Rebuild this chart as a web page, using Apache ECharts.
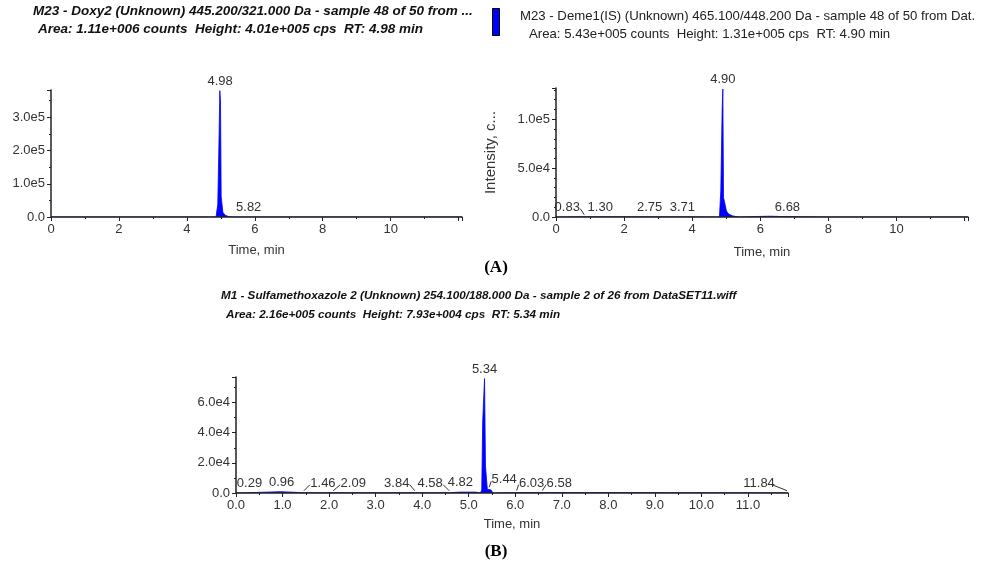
<!DOCTYPE html>
<html>
<head>
<meta charset="utf-8">
<script src="https://cdn.jsdelivr.net/npm/echarts@6/dist/echarts.min.js"></script>
<style>
  html, body { margin: 0; padding: 0; background: #fff; }
  #main { width: 981px; height: 570px; }
</style>
</head>
<body>
<div id="main"></div>
<script>
// trace A: Doxy2 445.2/321.0
const timeA = [0.0, 1.0, 2.0, 3.0, 4.0, 4.80, 4.86, 4.89, 4.91, 4.93, 4.95, 4.97, 4.99, 5.01, 5.03, 5.06, 5.09, 5.13, 5.18, 5.24, 5.35, 5.80, 5.82, 5.85, 6.5, 8.0, 10.0, 12.1]
const intA = [0, 0, 0, 0, 0, 0, 800, 6000, 38000, 41000, 250000, 380000, 350000, 62000, 58000, 14000, 9000, 5000, 2500, 1000, 0, 0, 1500, 0, 0, 0, 0, 0]
const peaksA = [4.98, 5.82]

// trace B: Deme1(IS) 465.1/448.2
const timeB = [0.0, 0.83, 1.30, 2.75, 3.71, 4.80, 4.84, 4.86, 4.88, 4.90, 4.92, 4.94, 4.97, 5.00, 5.04, 5.10, 5.18, 5.28, 5.40, 6.00, 6.30, 6.68, 8.0, 10.0, 12.1]
const intB = [0, 300, 300, 200, 200, 0, 27000, 27000, 110000, 131000, 20000, 18000, 12000, 7000, 4000, 2500, 1200, 500, 0, 600, 800, 400, 0, 0, 0]
const peaksB = [0.83, 1.30, 2.75, 3.71, 4.90, 6.68]

// trace C: Sulfamethoxazole 2 254.1/188.0
const timeC = [0.0, 0.29, 0.96, 1.46, 2.09, 3.84, 4.58, 4.82, 5.15, 5.25, 5.28, 5.30, 5.32, 5.34, 5.36, 5.38, 5.40, 5.44, 5.48, 5.52, 6.03, 6.58, 11.84, 11.86]
const intC = [0, 200, 900, 200, 200, 200, 200, 600, 600, 0, 2000, 47000, 47000, 76000, 18000, 18000, 2500, 2500, 2000, 0, 300, 300, 200, 0]
const peaksC = [0.29, 0.96, 1.46, 2.09, 3.84, 4.58, 4.82, 5.34, 5.44, 6.03, 6.58, 11.84]

// label shifts in px (leader line drawn when shifted)
const shiftA = [0, 0]
const shiftB = [-17, 0, 0, 0, 0, 4]
const shiftC = [0, 1, 19, 20, -18, -19, 0, 0, 15, 15, 17, -28]

const FONT = '"Liberation Sans", Arial, sans-serif'
const BLUE = '#0000ff'
const INK = '#333'

function pairs(t, v) {
  return t.map((x, i) => [x, v[i]])
}

// tallest point of the trace close to a retention time
function heightAt(t, v, rt) {
  let h = 0
  for (let i = 0; i < t.length; i++) {
    if (Math.abs(t[i] - rt) <= 0.03) h = Math.max(h, v[i])
  }
  return h
}

function sci(v) {
  if (v === 0) return '0.0'
  const e = Math.floor(Math.log10(v) + 1e-9)
  return (v / Math.pow(10, e)).toFixed(1) + 'e' + e
}

function labelSeries(idx, peaks, t, v, shift) {
  return {
    type: 'custom',
    xAxisIndex: idx,
    yAxisIndex: idx,
    z: 10,
    clip: false,
    silent: true,
    data: peaks.map(rt => [rt, heightAt(t, v, rt)]),
    renderItem(params, api) {
      const p = api.coord([api.value(0), api.value(1)])
      const dx = shift[params.dataIndex]
      const txt = api.value(0).toFixed(2)
      const lx = p[0] + dx
      const children = [{
        type: 'text',
        style: {
          text: txt, x: lx, y: p[1] - 3,
          align: 'center', verticalAlign: 'bottom',
          font: '13px ' + FONT, fill: INK
        }
      }]
      if (Math.abs(dx) > 5) {
        const edge = dx < 0 ? lx + 13 : lx - 13
        children.push({
          type: 'line',
          shape: { x1: edge, y1: p[1] - 8, x2: p[0], y2: p[1] - 2 },
          style: { stroke: INK, lineWidth: 1 }
        })
      }
      return { type: 'group', children }
    }
  }
}

function traceSeries(idx, t, v) {
  return {
    type: 'line',
    xAxisIndex: idx,
    yAxisIndex: idx,
    data: pairs(t, v),
    showSymbol: false,
    symbol: 'none',
    lineStyle: { color: BLUE, width: 0.8 },
    areaStyle: { color: BLUE, opacity: 1 },
    animation: false
  }
}

const axisCommon = {
  z: 5,
  axisLine: { show: true, lineStyle: { color: '#222', width: 1.5 } },
  axisTick: { show: true, length: 4, lineStyle: { color: '#222' } },
  minorTick: { show: true, length: 2, lineStyle: { color: '#222' } },
  splitLine: { show: false },
  axisLabel: { color: INK, fontFamily: FONT, fontSize: 13, margin: 6 }
}

function xAxis(idx, max, interval, fmt, gap) {
  return Object.assign({}, axisCommon, {
    gridIndex: idx, type: 'value', min: 0, max, interval,
    minorTick: Object.assign({}, axisCommon.minorTick, { splitNumber: 2 }),
    axisLabel: Object.assign({}, axisCommon.axisLabel, { formatter: fmt, showMaxLabel: false }),
    name: 'Time, min', nameLocation: 'middle', nameGap: gap,
    nameTextStyle: { color: INK, fontFamily: FONT, fontSize: 13 }
  })
}

function yAxis(idx, max, interval, split, name) {
  return Object.assign({}, axisCommon, {
    gridIndex: idx, type: 'value', min: 0, max, interval,
    minorTick: Object.assign({}, axisCommon.minorTick, { splitNumber: split }),
    axisLabel: Object.assign({}, axisCommon.axisLabel, { formatter: sci, showMaxLabel: false }),
    name: name || '', nameLocation: 'middle', nameGap: 58, nameRotate: 90,
    nameTextStyle: { color: INK, fontFamily: FONT, fontSize: 15 }
  })
}

const chart = echarts.init(document.getElementById('main'))

chart.setOption({
  backgroundColor: '#fff',
  animation: false,
  grid: [
    { left: 51, top: 90, width: 411, height: 127 },
    { left: 556, top: 88, width: 412, height: 129 },
    { left: 236, top: 377, width: 552, height: 116 }
  ],
  xAxis: [
    xAxis(0, 12.1, 2, v => (v > 11 ? '' : String(v)), 27),
    xAxis(1, 12.1, 2, v => (v > 11 ? '' : String(v)), 29),
    xAxis(2, 11.86, 1, v => v.toFixed(1), 25)
  ],
  yAxis: [
    yAxis(0, 382000, 100000, 2),
    yAxis(1, 132000, 50000, 5, 'Intensity, c...'),
    yAxis(2, 77000, 20000, 2)
  ],
  graphic: [
    { type: 'text', left: 33, top: 4, style: { text: 'M23 - Doxy2 (Unknown) 445.200/321.000 Da - sample 48 of 50 from ...', font: 'italic bold 13.5px ' + FONT, fill: '#111' } },
    { type: 'text', left: 38, top: 22, style: { text: 'Area: 1.11e+006 counts  Height: 4.01e+005 cps  RT: 4.98 min', font: 'italic bold 13.5px ' + FONT, fill: '#111' } },
    { type: 'rect', left: 492, top: 8, shape: { width: 7, height: 27 }, style: { fill: BLUE, stroke: '#000', lineWidth: 1 } },
    { type: 'text', left: 520, top: 10, style: { text: 'M23 - Deme1(IS) (Unknown) 465.100/448.200 Da - sample 48 of 50 from Dat.', font: '13.2px ' + FONT, fill: '#222' } },
    { type: 'text', left: 529, top: 28, style: { text: 'Area: 5.43e+005 counts  Height: 1.31e+005 cps  RT: 4.90 min', font: '13.2px ' + FONT, fill: '#222' } },
    { type: 'text', left: 221, top: 290, style: { text: 'M1 - Sulfamethoxazole 2 (Unknown) 254.100/188.000 Da - sample 2 of 26 from DataSET11.wiff', font: 'italic bold 11.7px ' + FONT, fill: '#111' } },
    { type: 'text', left: 226, top: 309, style: { text: 'Area: 2.16e+005 counts  Height: 7.93e+004 cps  RT: 5.34 min', font: 'italic bold 11.7px ' + FONT, fill: '#111' } },
    { type: 'text', x: 496, y: 268, style: { text: '(A)', font: 'bold 17px "Liberation Serif", serif', fill: '#000', align: 'center', verticalAlign: 'middle' } },
    { type: 'text', x: 496, y: 552, style: { text: '(B)', font: 'bold 17px "Liberation Serif", serif', fill: '#000', align: 'center', verticalAlign: 'middle' } }
  ],
  series: [
    traceSeries(0, timeA, intA),
    traceSeries(1, timeB, intB),
    traceSeries(2, timeC, intC),
    labelSeries(0, peaksA, timeA, intA, shiftA),
    labelSeries(1, peaksB, timeB, intB, shiftB),
    labelSeries(2, peaksC, timeC, intC, shiftC)
  ]
})
</script>
</body>
</html>
